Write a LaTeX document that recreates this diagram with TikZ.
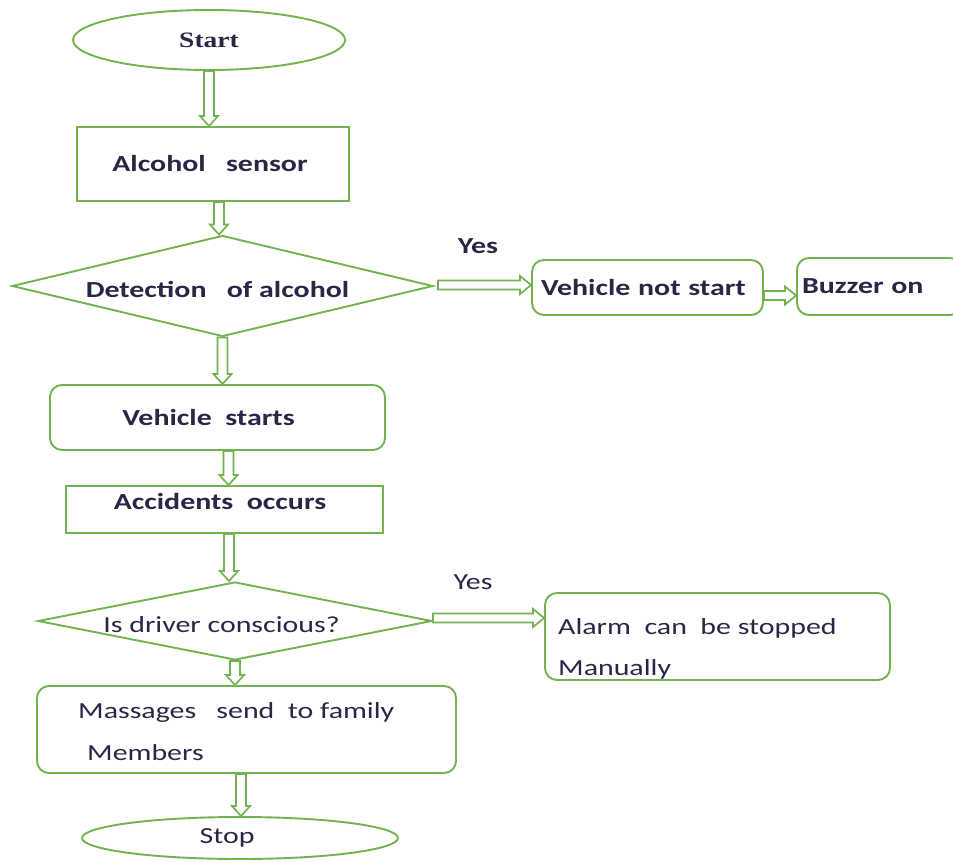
\documentclass[tikz,border=0pt]{standalone}
\usepackage{fontspec}
\setmainfont{Carlito}[FakeStretch=1.3]
\newfontfamily\startfont{Liberation Serif}[FakeStretch=1.25]
\usetikzlibrary{shapes.geometric,calc}
\definecolor{gline}{RGB}{115,178,80}
\definecolor{tcol}{RGB}{40,40,70}
\tikzset{
  shapebase/.style={draw=gline, line width=1.9pt, text=tcol, inner sep=0pt,
    font=\fontsize{23}{28}\selectfont},
  bt/.style={font=\fontsize{23}{28}\selectfont\bfseries},
  term/.style={shapebase, ellipse},
  proc/.style={shapebase, rectangle},
  rproc/.style={shapebase, rectangle, rounded corners=12pt},
  dec/.style={shapebase, diamond},
  txt/.style={text=tcol, inner sep=0pt, font=\fontsize{23}{28}\selectfont},
  conn/.style={draw=gline, line width=1.7pt, fill=white, line join=miter},
  darr/.style={to path={let \p1=(\tikztostart), \p2=(\tikztotarget) in
    (\x1-5pt,\y1) -- (\x1-5pt,\y2+10pt) -- (\x1-9pt,\y2+10pt) -- (\x1,\y2)
    -- (\x1+9pt,\y2+10pt) -- (\x1+5pt,\y2+10pt) -- (\x1+5pt,\y1) -- cycle}},
  rarr/.style={to path={let \p1=(\tikztostart), \p2=(\tikztotarget) in
    (\x1,\y1+4.5pt) -- (\x2-11pt,\y1+4.5pt) -- (\x2-11pt,\y1+9pt) -- (\x2,\y1)
    -- (\x2-11pt,\y1-9pt) -- (\x2-11pt,\y1-4.5pt) -- (\x1,\y1-4.5pt) -- cycle}},
}
\begin{document}
\begin{tikzpicture}[x=1pt,y=-1pt]
\useasboundingbox (0,0) rectangle (953,862);

% nodes
\node[term, minimum width=272pt, minimum height=60pt,
      font=\startfont\fontsize{22}{26}\selectfont\bfseries] (start) at (209,40) {Start};
\node[proc, bt, minimum width=272pt, minimum height=74pt] (sensor) at (213,164)
  {Alcohol\ \ \ sensor\kern6pt};
\node[dec, bt, minimum width=421pt, minimum height=101pt, aspect=4.17,
      text height=23pt, text depth=0pt] (det) at (222.5,286)
  {Detection\ \ \ of\ alcohol\kern10pt};
\node[rproc, bt, minimum width=231pt, minimum height=55pt, text width=213pt,
      align=left] (vns) at (647.5,287.5) {Vehicle not start};
\node[rproc, bt, minimum width=165pt, minimum height=57pt, text width=155pt,
      align=left] (buzz) at (879.5,286.5) {Buzzer on};
\node[rproc, bt, minimum width=335pt, minimum height=65pt] (vs) at (217.5,417.5)
  {Vehicle\ \ starts\kern18pt};
\node[proc, bt, minimum width=317pt, minimum height=47pt,
      text height=16pt, text depth=16pt] (acc) at (224.5,509.5)
  {Accidents\ \ occurs\kern9pt};
\node[dec, minimum width=394pt, minimum height=78pt, aspect=5.05,
      text height=22pt, text depth=0pt] (drv) at (235,621)
  {Is driver conscious?\kern27pt};
\node[rproc, minimum width=345pt, minimum height=87pt] (alarm) at (717.5,636.5) {};
\node[rproc, minimum width=419pt, minimum height=87pt] (msg) at (246.5,729.5) {};
\node[term, minimum width=316pt, minimum height=42pt] (stop) at (240,838)
  {Stop\kern26pt};

% texts
\node[txt, bt] (yes1) at (478,246) {Yes};
\node[txt] (yes2) at (473,582) {Yes};
\node[txt, anchor=base west] (alarmA) at (558,634.5) {Alarm\ \ can\ \ be stopped};
\node[txt, anchor=base west] (alarmB) at (558,675.5) {Manually};
\node[txt, anchor=base west] (msgA) at (78,718) {Massages\ \ \ send\ \ to family};
\node[txt, anchor=base west] (msgB) at (87,760) {Members};

% connectors
\draw[conn] (start.south) to[darr] (sensor.north);
\draw[conn] ([xshift=6pt]sensor.south) to[darr] (det.north);
\draw[conn] (det.south) to[darr] (vs.north);
\draw[conn] ([xshift=11pt]vs.south) to[darr] (acc.north);
\draw[conn] ([xshift=4.5pt]acc.south) to[darr] (drv.north);
\draw[conn] (drv.south) to[darr] (msg.north);
\draw[conn] ([xshift=-5.5pt]msg.south) to[darr] (stop.north);
\draw[conn] ([xshift=4pt,yshift=1pt]det.east) to[rarr] (vns.west);
\draw[conn] ([yshift=-8pt]vns.east) to[rarr] (buzz.west);
\draw[conn] ([yshift=3pt]drv.east) to[rarr] (alarm.west);
\end{tikzpicture}
\end{document}
